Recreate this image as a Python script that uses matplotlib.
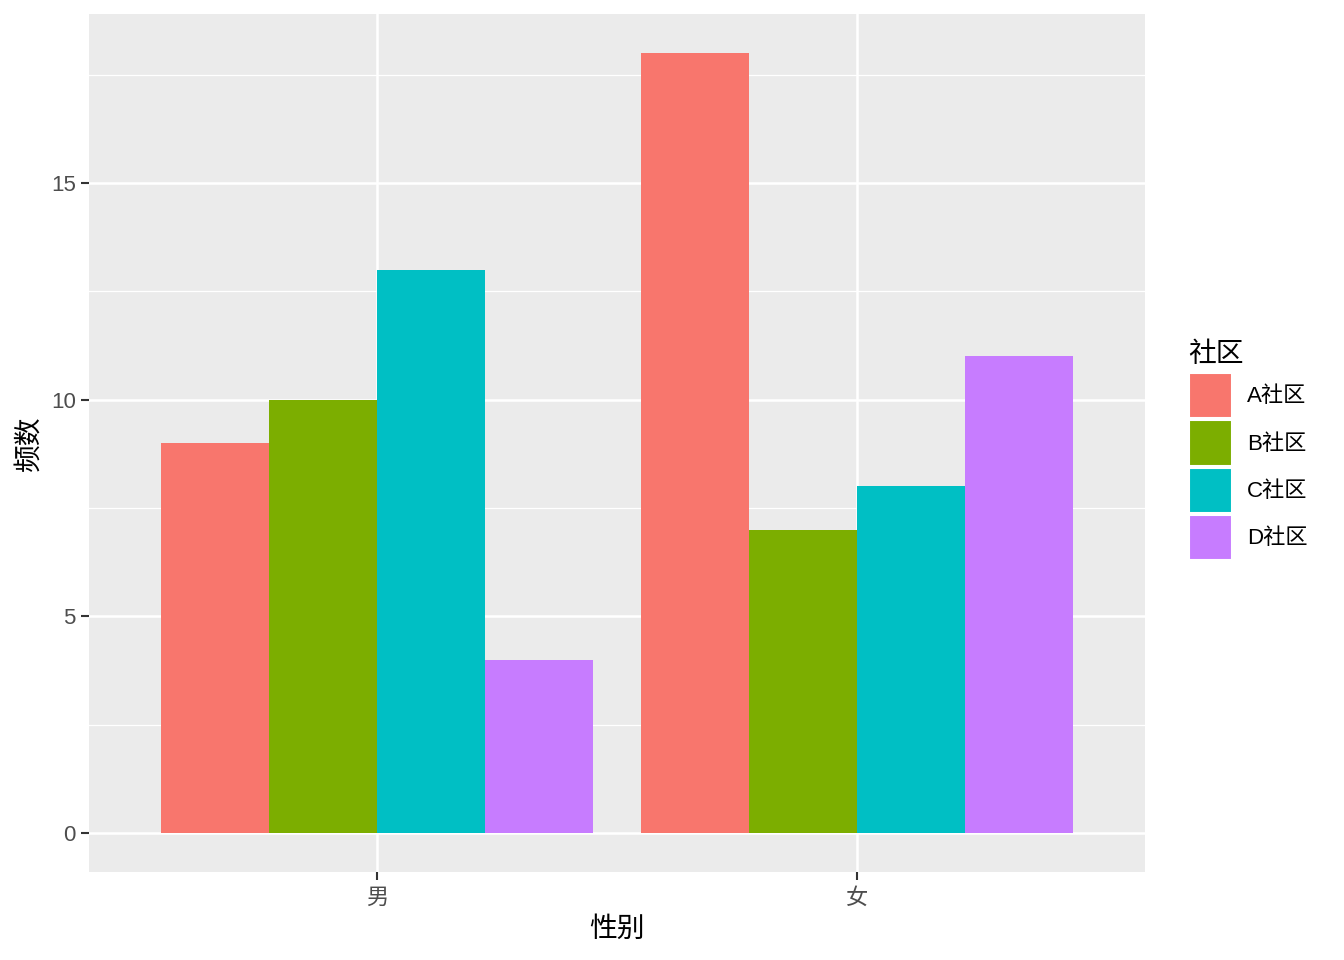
import matplotlib
matplotlib.use('Agg')
import matplotlib.pyplot as plt
from matplotlib.patches import Patch
import numpy as np

plt.rcParams['font.family'] = ['Liberation Sans', 'Noto Sans CJK SC', 'DejaVu Sans']

genders = ['男', '女']
communities = ['A社区', 'B社区', 'C社区', 'D社区']
counts = {
    'A社区': [9, 18],
    'B社区': [10, 7],
    'C社区': [13, 8],
    'D社区': [4, 11],
}
colors = ['#F8766D', '#7CAE00', '#00BFC4', '#C77CFF']

fig = plt.figure(figsize=(13.44, 9.6), dpi=100)
ax = fig.add_axes([89 / 1344, 1 - 872 / 960, (1145 - 89) / 1344, (872 - 14) / 960])
ax.set_facecolor('#EBEBEB')

x = np.arange(1, len(genders) + 1)
w = 0.9 / len(communities)
for i, (name, col) in enumerate(zip(communities, colors)):
    ax.bar(x - 0.45 + w * (i + 0.5), counts[name], width=w, color=col, zorder=3)

ax.set_xlim(0.4, 2.6)
ax.set_ylim(-0.9, 18.9)
ax.set_xticks(x)
ax.set_xticklabels(genders)
ax.set_yticks([0, 5, 10, 15])
ax.set_yticks([2.5, 7.5, 12.5, 17.5], minor=True)

ax.grid(which='major', color='white', linewidth=1.8, zorder=1)
ax.grid(which='minor', axis='y', color='white', linewidth=0.9, zorder=1)
for s in ax.spines.values():
    s.set_visible(False)
ax.tick_params(which='major', length=5.5, width=1.5, color='#333333',
               labelsize=16, labelcolor='#4D4D4D', pad=4)
ax.tick_params(axis='x', which='major', pad=6)
ax.tick_params(which='minor', length=0)

ax.set_xlabel('性别', fontsize=20, labelpad=6)
ax.set_ylabel('频数', fontsize=20, labelpad=6)

handles = [Patch(facecolor=c, edgecolor='white', linewidth=1.5) for c in colors]
leg = fig.legend(handles, communities, loc='upper left',
                 bbox_to_anchor=(1173 / 1344, 1 - 326 / 960),
                 frameon=False, title='社区', title_fontsize=20, fontsize=16,
                 handlelength=1.94, handleheight=2.75, labelspacing=0.1,
                 handletextpad=0.7, borderpad=0.2)
leg._legend_box.align = 'left'
leg._legend_box.sep = 4

fig.savefig('out.png', dpi=100)
